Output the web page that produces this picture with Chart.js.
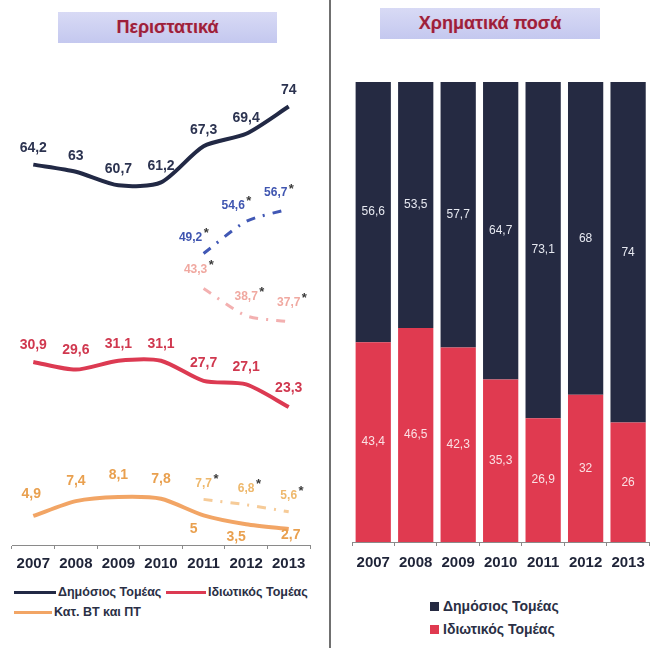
<!DOCTYPE html>
<html>
<head>
<meta charset="utf-8">
<script src="https://cdn.jsdelivr.net/npm/chart.js@4.4.1/dist/chart.umd.min.js"></script>
<style>
  body { margin: 0; width: 653px; height: 648px; background: #fff; position: relative; overflow: hidden; font-family: "Liberation Sans", Arial, sans-serif; }
  .panel { position: absolute; top: 0; height: 648px; }
  #left { left: 0; width: 329px; }
  #right { left: 332px; width: 321px; }
  .divider { position: absolute; left: 329px; top: 0; width: 2px; height: 648px; background: #707070; }
  .title { position: absolute; height: 31px; line-height: 31px; text-align: center; background: linear-gradient(#d8daf5, #c4c8ef); color: #9c1f3c; font-weight: bold; font-size: 18px; text-shadow: 0 0 1px #e6a0b0; }
  canvas { position: absolute; left: 0; top: 0; }
  .legend { position: absolute; font-weight: bold; color: #2a2f45; }
  .legend .item { position: absolute; white-space: nowrap; display: flex; align-items: center; }
  .legend .line { display: inline-block; height: 3px; margin-right: 2px; }
  .legend .box { display: inline-block; width: 9px; height: 9px; margin-right: 4px; }
</style>
</head>
<body>
<div class="panel" id="left">
  <div class="title" style="left:58px;top:12px;width:219px;">Περιστατικά</div>
  <canvas id="linesChart" width="329" height="580"></canvas>
  <div class="legend" id="leftLegend"></div>
</div>
<div class="divider"></div>
<div class="panel" id="right">
  <div class="title" style="left:48px;top:8px;width:220px;">Χρηματικά ποσά</div>
  <canvas id="barsChart" width="321" height="580"></canvas>
  <div class="legend" id="rightLegend"></div>
</div>

<script>
const years = ['2007', '2008', '2009', '2010', '2011', '2012', '2013'];

// περιστατικά (%)
const publicCases = [64.2, 63, 60.7, 61.2, 67.3, 69.4, 74];
const privateCases = [30.9, 29.6, 31.1, 31.1, 27.7, 27.1, 23.3];
const otherCases = [4.9, 7.4, 8.1, 7.8, 5, 3.5, 2.7];
// νέος ορισμός (*) για 2011-2013
const publicCasesNew = [null, null, null, null, 49.2, 54.6, 56.7];
const privateCasesNew = [null, null, null, null, 43.3, 38.7, 37.7];
const otherCasesNew = [null, null, null, null, 7.7, 6.8, 5.6];

// χρηματικά ποσά (%)
const publicAmounts = [56.6, 53.5, 57.7, 64.7, 73.1, 68, 74];
const privateAmounts = [43.4, 46.5, 42.3, 35.3, 26.9, 32, 26];

const NAVY = '#222945';
const RED = '#dc3a52';
const ORANGE = '#f2a565';

const fmt = v => String(v).replace('.', ',');

// draws each dataset's values next to its points / inside its bars
const valueLabels = {
  id: 'valueLabels',
  afterDatasetsDraw(chart) {
    const ctx = chart.ctx;
    chart.data.datasets.forEach((ds, i) => {
      const opt = ds.valueLabel;
      if (!opt) return;
      const meta = chart.getDatasetMeta(i);
      ctx.save();
      ctx.font = opt.font;
      ctx.textAlign = 'center';
      ctx.textBaseline = 'middle';
      meta.data.forEach((el, j) => {
        const v = ds.data[j];
        if (v == null) return;
        const p = el.getCenterPoint();
        const dx = Array.isArray(opt.dx) ? opt.dx[j] : (opt.dx || 0);
        const dy = Array.isArray(opt.dy) ? opt.dy[j] : (opt.dy || 0);
        const text = fmt(v);
        const x = p.x + dx, y = p.y + dy;
        ctx.fillStyle = opt.color;
        ctx.fillText(text, x, y);
        if (opt.star) {
          const w = ctx.measureText(text).width;
          ctx.fillStyle = '#3a3a3a';
          ctx.font = 'bold 13px "Liberation Sans", Arial';
          ctx.fillText('*', x + w / 2 + 4, y - 4);
          ctx.font = opt.font;
        }
      });
      ctx.restore();
    });
  }
};

const labelFont = 'bold 14px "Liberation Sans", Arial';
const smallFont = 'bold 12px "Liberation Sans", Arial';
const tickFont = { family: '"Liberation Sans", Arial', size: 15, weight: 'bold' };

const lineDs = (label, data, color, extra) => Object.assign({
  label, data, borderColor: color, backgroundColor: color,
  borderWidth: 4, pointRadius: 0, tension: 0.25, spanGaps: false
}, extra);

new Chart(document.getElementById('linesChart'), {
  type: 'line',
  data: {
    labels: years,
    datasets: [
      lineDs('Δημόσιος Τομέας', publicCases, NAVY, {
        valueLabel: { font: labelFont, color: '#2c3350', dy: -16 }
      }),
      lineDs('Ιδιωτικός Τομέας', privateCases, RED, {
        valueLabel: { font: labelFont, color: '#d0384f', dy: [-17, -19, -17, -17, -18, -17, -19] }
      }),
      lineDs('Κατ. ΒΤ και ΠΤ', otherCases, ORANGE, {
        valueLabel: { font: labelFont, color: '#e9a04f', dx: [-2, 0, 0, 0, -10, -10, 2], dy: [-22, -20, -22, -20, 14, 13, 6] }
      }),
      lineDs('Δημόσιος Τομέας *', publicCasesNew, '#4158b5', {
        borderWidth: 3, borderDash: [9, 8, 2, 8],
        valueLabel: { font: smallFont, color: '#3f55b0', dx: -13, dy: -16, star: true }
      }),
      lineDs('Ιδιωτικός Τομέας *', privateCasesNew, '#f3b0b0', {
        borderWidth: 3, borderDash: [9, 8, 2, 8],
        valueLabel: { font: smallFont, color: '#f0a8a0', dx: [0, 0, 0, 0, -8, 0, 0], dy: -19, star: true }
      }),
      lineDs('Κατ. ΒΤ και ΠΤ *', otherCasesNew, '#f6cb98', {
        borderWidth: 3, borderDash: [9, 8, 2, 8],
        valueLabel: { font: smallFont, color: '#eeb86c', dy: -16, star: true }
      })
    ]
  },
  options: {
    responsive: false,
    animation: false,
    layout: { padding: { left: 12, right: 19, top: 71, bottom: 5 } },
    plugins: { legend: { display: false }, tooltip: { enabled: false } },
    scales: {
      x: {
        offset: true,
        afterFit: s => { s.height = 30; },
        border: { display: true, color: '#8a8a8a', width: 1 },
        grid: { drawOnChartArea: false, drawTicks: true, tickLength: 4, offset: true, color: '#8a8a8a' },
        ticks: { color: '#1f2438', padding: 6, font: tickFont }
      },
      y: { display: false, min: 0, max: 80 }
    }
  },
  plugins: [valueLabels]
});

const barsChart = new Chart(document.getElementById('barsChart'), {
  type: 'bar',
  data: {
    labels: years,
    datasets: [
      {
        label: 'Ιδιωτικός Τομέας', data: privateAmounts, backgroundColor: '#e03a50',
        valueLabel: { font: '12px "Liberation Sans", Arial', color: '#fbe0e4' }
      },
      {
        label: 'Δημόσιος Τομέας', data: publicAmounts, backgroundColor: '#252a42',
        valueLabel: { font: '12px "Liberation Sans", Arial', color: '#e6e8f0' }
      }
    ]
  },
  options: {
    responsive: false,
    animation: false,
    layout: { padding: { left: 20, right: 3, top: 82, bottom: 5 } },
    datasets: { bar: { barPercentage: 0.83, categoryPercentage: 1 } },
    plugins: { legend: { display: false }, tooltip: { enabled: false } },
    scales: {
      x: {
        stacked: true,
        afterFit: s => { s.height = 33; },
        border: { display: true, color: '#8a8a8a', width: 1 },
        grid: { drawOnChartArea: false, drawTicks: true, tickLength: 4, offset: true, color: '#8a8a8a' },
        ticks: { color: '#1f2438', padding: 8, font: tickFont }
      },
      y: { display: false, stacked: true, min: 0, max: 100 }
    }
  },
  plugins: [valueLabels]
});

// left legend: three solid series as line samples
const leftLegend = document.getElementById('leftLegend');
leftLegend.style.fontSize = '12.5px';
[
  { label: 'Δημόσιος Τομέας', color: NAVY, x: 14, y: 585, w: 42 },
  { label: 'Ιδιωτικός Τομέας', color: RED, x: 166, y: 585, w: 40 },
  { label: 'Κατ. ΒΤ και ΠΤ', color: ORANGE, x: 14, y: 605, w: 38 }
].forEach(it => {
  const d = document.createElement('div');
  d.className = 'item';
  d.style.left = it.x + 'px';
  d.style.top = it.y + 'px';
  d.innerHTML = `<span class="line" style="width:${it.w}px;background:${it.color}"></span>${it.label}`;
  leftLegend.appendChild(d);
});

// right legend: square markers, public first
const rightLegend = document.getElementById('rightLegend');
rightLegend.style.fontSize = '14px';
[...barsChart.data.datasets].reverse().forEach((ds, i) => {
  const d = document.createElement('div');
  d.className = 'item';
  d.style.left = '98px';
  d.style.top = (598 + i * 23) + 'px';
  d.innerHTML = `<span class="box" style="background:${ds.backgroundColor}"></span>${ds.label}`;
  rightLegend.appendChild(d);
});
</script>
</body>
</html>
